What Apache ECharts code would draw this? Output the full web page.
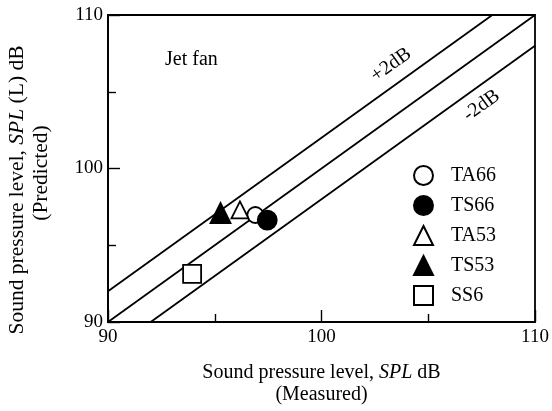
<!DOCTYPE html>
<html><head><meta charset="utf-8">
<script src="https://cdn.jsdelivr.net/npm/echarts@6/dist/echarts.min.js"></script>
<style>html,body{margin:0;padding:0;background:#fff}#c{width:552px;height:411px}</style>
</head><body><div id="c"></div>
<script>
const xTicks = [90, 100, 110];
const yTicks = [90, 100, 110];
const seriesNames = ['TA66', 'TS66', 'TA53', 'TS53', 'SS6'];
const ta66 = [[96.9, 96.97]];
const ts66 = [[97.46, 96.64]];
const ta53 = [[96.18, 97.3]];
const ts53 = [[95.27, 97.1]];
const ss6 = [[93.94, 93.13]];
const lineEqual = [[90, 90], [110, 110]];
const linePlus2 = [[90, 92], [108, 110]];
const lineMinus2 = [[92, 90], [110, 108]];
const annPlus = [[103.26, 106.75]];
const annMinus = [[107.5, 104.1]];

const F = 'Liberation Serif, Times New Roman, serif';
const chart = echarts.init(document.getElementById('c'));
const lineStyle = {color: '#000', width: 1.8};
function refLine(d) {
  return {type: 'line', data: d, symbol: 'none', silent: true, lineStyle: lineStyle, z: 1, animation: false};
}
function pts(name, d, symbol, filled, size) {
  return {name: name, type: 'scatter', data: d, symbol: symbol, symbolSize: size,
    itemStyle: {color: filled ? '#000' : '#fff', borderColor: '#000', borderWidth: 1.8, opacity: 1}, z: 5};
}
function ann(text, d) {
  return {type: 'scatter', data: d, symbolSize: 1, silent: true, itemStyle: {color: 'rgba(0,0,0,0)'},
    label: {show: true, position: 'inside', formatter: text, rotate: 35.7, fontFamily: F, fontSize: 20, color: '#000', opacity: 1}};
}
const axisCommon = {
  type: 'value', min: 90, max: 110, interval: 10,
  axisLine: {show: true, lineStyle: {color: '#000', width: 1.8}},
  axisTick: {show: true, inside: true, length: 12, lineStyle: {color: '#000', width: 1.4}},
  minorTick: {show: true, splitNumber: 2, length: 8, lineStyle: {color: '#000', width: 1.4}},
  splitLine: {show: false}
};
function richSet(size, lh) {
  return {
    n: {fontFamily: F, fontSize: size, color: '#000', lineHeight: lh},
    i: {fontFamily: F, fontSize: size, color: '#000', fontStyle: 'italic', lineHeight: lh},
    s1: {width: 43, lineHeight: lh},
    s2: {width: 9, lineHeight: lh}
  };
}
chart.setOption({
  animation: false,
  backgroundColor: '#fff',
  grid: {left: 108, top: 15, right: 17, bottom: 89, show: true, borderColor: '#000', borderWidth: 1.8, outerBoundsMode: 'none'},
  xAxis: Object.assign({}, axisCommon, {
    axisLabel: {fontFamily: F, fontSize: 19, color: '#000', margin: 6,
      formatter: v => xTicks.includes(v) ? String(v) : ''},
    name: '{n|Sound pressure level, }{i|SPL}{n| dB}\n{n|(Measured)}',
    nameLocation: 'middle', nameGap: 40,
    nameTextStyle: {lineHeight: 22, rich: richSet(20, 22)}
  }),
  yAxis: Object.assign({}, axisCommon, {
    axisLabel: {fontFamily: F, fontSize: 19, color: '#000', margin: 5,
      formatter: v => yTicks.includes(v) ? String(v) : ''},
    name: '{n|Sound pressure level, }{i|SPL}{n| (L) dB}{s1|}\n{n|(Predicted)}{s2|}',
    nameLocation: 'middle', nameGap: 55, nameRotate: 90,
    nameTextStyle: {lineHeight: 24, rich: richSet(21.5, 24)}
  }),
  legend: {data: seriesNames, orient: 'vertical', left: 408, top: 160, itemWidth: 19, itemHeight: 19,
    itemGap: 9, textStyle: {fontFamily: F, fontSize: 20, lineHeight: 20, color: '#000', padding: [0, 0, 0, 13]}, selectedMode: false},
  graphic: [{type: 'text', left: 165, top: 50, style: {text: 'Jet fan', font: '20px ' + F, fill: '#000'}}],
  series: [
    refLine(lineEqual), refLine(linePlus2), refLine(lineMinus2),
    ann('+2dB', annPlus), ann('-2dB', annMinus),
    pts('TA66', ta66, 'circle', false, 16),
    pts('TS66', ts66, 'circle', true, 19),
    pts('TA53', ta53, 'triangle', false, 17),
    pts('TS53', ts53, 'triangle', true, 20),
    pts('SS6', ss6, 'rect', false, 18)
  ]
});
</script></body></html>
